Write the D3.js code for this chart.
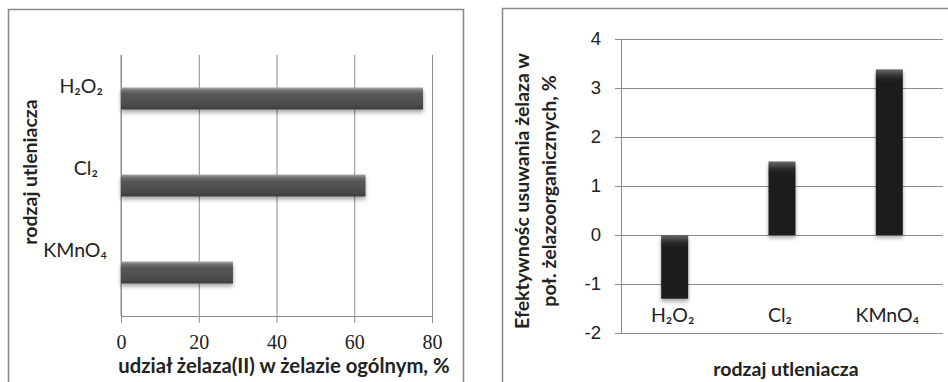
<!DOCTYPE html>
<html lang="pl">
<head>
<meta charset="UTF-8">
<title>Utleniacze - żelazo</title>
<script src="https://d3js.org/d3.v7.min.js"></script>
<style>
    body { margin: 0; background: #fff; }
    svg { display: block; font-family: Lato, "Open Sans", sans-serif; }
</style>
</head>
<body>
<div id="chart"></div>
<script>
    // categories (oxidants) and values
    const oxidants = ["H₂O₂", "Cl₂", "KMnO₄"];
    const fe2Share = [77.7, 62.9, 28.8];          // udział żelaza(II), %
    const removalEff = [-1.3, 1.5, 3.38];          // efektywność usuwania, %
    const shareTicks = [0, 20, 40, 60, 80];
    const effTicks = [-2, -1, 0, 1, 2, 3, 4];

    const W = 948, H = 382;
    const svg = d3.select("#chart").append("svg")
        .attr("width", W).attr("height", H);

    const defs = svg.append("defs");

    // bevel look for the grey horizontal bars
    const gGrey = defs.append("linearGradient").attr("id", "barGrey")
        .attr("x1", 0).attr("y1", 0).attr("x2", 0).attr("y2", 1);
    [[0, "#a8a8a8"], [0.14, "#707070"], [0.3, "#575757"], [0.8, "#4b4b4b"], [1, "#3c3c3c"]]
        .forEach(s => gGrey.append("stop").attr("offset", s[0]).attr("stop-color", s[1]));

    // bevel look for the black columns (top highlight only)
    const gDark = defs.append("linearGradient").attr("id", "barDark")
        .attr("gradientUnits", "userSpaceOnUse")
        .attr("x1", 0).attr("y1", 0).attr("x2", 0).attr("y2", 12);
    [[0, "#6a6a6a"], [0.6, "#2c2c2c"], [1, "#1e1e1e"]]
        .forEach(s => gDark.append("stop").attr("offset", s[0]).attr("stop-color", s[1]));

    const shadow = defs.append("filter").attr("id", "shadow")
        .attr("x", "-10%").attr("y", "-30%").attr("width", "120%").attr("height", "180%");
    shadow.append("feDropShadow").attr("dx", 0).attr("dy", 3)
        .attr("stdDeviation", 2).attr("flood-color", "#000").attr("flood-opacity", 0.35);

    const gridColor = "#8c8c8c";
    const frameColor = "#8a8a8a";
    const titleSize = 19.5;

    // ---------- left panel: horizontal bars ----------
    svg.append("path")
        .attr("d", "M8.5," + H + "V9.5H463.5V" + H)
        .attr("fill", "none").attr("stroke", frameColor).attr("stroke-width", 1.6);

    const x1 = d3.scaleLinear().domain([0, 80]).range([121, 432]);
    const y1 = d3.scaleBand().domain(oxidants).range([55, 316])
        .paddingInner(0.747).paddingOuter(0.3735);

    const left = svg.append("g");

    left.append("g")
        .attr("transform", "translate(0,316)")
        .call(d3.axisBottom(x1).tickValues(shareTicks).tickSize(-261).tickSizeOuter(0).tickFormat(""))
        .call(g => g.select(".domain").remove())
        .call(g => g.selectAll(".tick line").attr("stroke", gridColor));

    left.append("g")
        .attr("transform", "translate(0,316)")
        .call(d3.axisBottom(x1).tickValues(shareTicks).tickSize(7).tickSizeOuter(0).tickPadding(12))
        .call(g => g.select(".domain").attr("stroke", gridColor))
        .call(g => g.selectAll(".tick line").attr("stroke", gridColor))
        .call(g => g.selectAll(".tick text")
            .attr("fill", "#222").attr("font-size", 20)
            .attr("font-family", "'Liberation Serif', serif"));

    left.append("line")
        .attr("x1", x1(0)).attr("x2", x1(0)).attr("y1", 55).attr("y2", 316)
        .attr("stroke", gridColor);

    left.selectAll("rect.bar")
        .data(oxidants)
        .join("rect")
        .attr("class", "bar")
        .attr("x", x1(0))
        .attr("y", d => y1(d))
        .attr("width", (d, i) => x1(fe2Share[i]) - x1(0))
        .attr("height", y1.bandwidth())
        .attr("fill", "url(#barGrey)")
        .attr("filter", "url(#shadow)");

    // category labels sit a bit above their bars in the original
    const yLab = d3.scalePoint().domain(oxidants).range([93, 257]);
    left.selectAll("text.cat")
        .data(oxidants)
        .join("text")
        .attr("class", "cat")
        .attr("x", (d, i) => [103, 98, 107][i])
        .attr("y", d => yLab(d))
        .attr("text-anchor", "end")
        .attr("font-size", 19.5).attr("fill", "#222")
        .text(d => d);

    left.append("text")
        .attr("x", 284).attr("y", 373)
        .attr("text-anchor", "middle")
        .attr("font-size", 20.3).attr("font-weight", "bold").attr("fill", "#222")
        .text("udział żelaza(II) w żelazie ogólnym, %");

    left.append("text")
        .attr("transform", "translate(37,172) rotate(-90)")
        .attr("text-anchor", "middle")
        .attr("font-size", titleSize).attr("font-weight", "bold").attr("fill", "#222")
        .text("rodzaj utleniacza");

    // ---------- right panel: columns ----------
    svg.append("path")
        .attr("d", "M502.5," + H + "V8.5H" + (W + 2))
        .attr("fill", "none").attr("stroke", frameColor).attr("stroke-width", 1.6);

    const x2 = d3.scaleBand().domain(oxidants).range([621, 943])
        .paddingInner(0.748).paddingOuter(0.374);
    const y2 = d3.scaleLinear().domain([-2, 4]).range([333, 39]);

    const right = svg.append("g");

    right.append("g")
        .attr("transform", "translate(621,0)")
        .call(d3.axisLeft(y2).tickValues(effTicks).tickSize(6).tickPadding(14).tickFormat(d => String(d)))
        .call(g => g.select(".domain").attr("stroke", gridColor))
        .call(g => g.selectAll(".tick line").clone()
            .attr("x1", 0).attr("x2", 943 - 621))
        .call(g => g.selectAll(".tick line").attr("stroke", gridColor))
        .call(g => g.selectAll(".tick text").attr("fill", "#222").attr("font-size", 18.5));

    right.selectAll("rect.bar")
        .data(oxidants)
        .join("rect")
        .attr("class", "bar")
        .attr("x", d => x2(d))
        .attr("y", (d, i) => y2(Math.max(0, removalEff[i])))
        .attr("width", x2.bandwidth())
        .attr("height", (d, i) => Math.abs(y2(removalEff[i]) - y2(0)))
        .attr("filter", "url(#shadow)")
        .each(function (d, i) {
            // move the gradient to the top of each column
            const top = y2(Math.max(0, removalEff[i]));
            const id = "barDark" + i;
            gDark.clone(true).attr("id", id).attr("y1", top).attr("y2", top + 12);
            d3.select(this).attr("fill", "url(#" + id + ")");
        });

    right.selectAll("text.cat")
        .data(oxidants)
        .join("text")
        .attr("class", "cat")
        .attr("x", d => x2(d) + x2.bandwidth() / 2 - 2)
        .attr("y", y2(-2) - 11)
        .attr("text-anchor", "middle")
        .attr("font-size", 19.5).attr("fill", "#222")
        .text(d => d);

    right.append("text")
        .attr("x", 786).attr("y", 376)
        .attr("text-anchor", "middle")
        .attr("font-size", titleSize).attr("font-weight", "bold").attr("fill", "#222")
        .text("rodzaj utleniacza");

    const yTitle = right.append("text")
        .attr("transform", "translate(0,191) rotate(-90)")
        .attr("text-anchor", "middle")
        .attr("font-size", titleSize).attr("font-weight", "bold").attr("fill", "#222");
    yTitle.append("tspan").attr("x", 0).attr("y", 529).text("Efektywnośc usuwania żelaza w");
    yTitle.append("tspan").attr("x", 0).attr("y", 556).text("poł. żelazoorganicznych, %");
</script>
</body>
</html>
